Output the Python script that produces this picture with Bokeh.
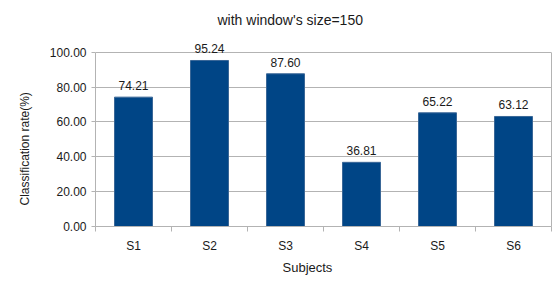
import numpy as np
from bokeh.plotting import figure
from bokeh.models import (ColumnDataSource, Range1d, FixedTicker, LabelSet, Title,
                          NumeralTickFormatter, LinearAxis)
from bokeh.core.properties import value
from bokeh.embed import file_html
from bokeh.resources import INLINE

subjects = ["S1", "S2", "S3", "S4", "S5", "S6"]
rates = [74.21, 95.24, 87.60, 36.81, 65.22, 63.12]
y_ticks = [0, 20, 40, 60, 80, 100]
title_text = "with window's size=150"
x_title = "Subjects"
y_title = "Classification rate(%)"

FONT = "Liberation Sans"
GRID = "#b3b3b3"
TXT = "#1a1a1a"

n = len(subjects)
centers = (np.arange(n) + 0.5).tolist()
bounds = list(range(n + 1))
y_max = y_ticks[-1]

src = ColumnDataSource(dict(x=centers, top=rates,
                            lab=["%.2f" % v for v in rates]))

p = figure(width=552, height=277, output_backend="svg", toolbar_location=None,
           x_range=Range1d(0, n), y_range=Range1d(0, y_max * 1.09),
           min_border_left=90, min_border_right=1, min_border_top=36,
           min_border_bottom=46)
p.background_fill_color = "white"
p.border_fill_color = "white"
p.outline_line_color = None

p.vbar(x="x", top="top", width=0.5, source=src, fill_color="#004586",
       line_color="#3a6797", line_width=1)

labels = LabelSet(x="x", y="top", text="lab", source=src, text_align="center",
                  text_baseline="bottom", y_offset=7, text_font=value(FONT),
                  text_font_size=value("12px"), text_color=TXT)
p.add_layout(labels)

# y axis
p.yaxis.ticker = FixedTicker(ticks=y_ticks)
p.yaxis.bounds = (0, y_max)
p.yaxis.formatter = NumeralTickFormatter(format="0.00")
p.yaxis.major_tick_in = 0
p.yaxis.major_tick_out = 4
p.yaxis.minor_tick_line_color = None
p.yaxis.axis_line_color = GRID
p.yaxis.major_tick_line_color = GRID
p.yaxis.major_label_text_font = FONT
p.yaxis.major_label_text_font_size = "12px"
p.yaxis.major_label_text_color = TXT
p.yaxis.major_label_standoff = 5

# right border line of the plot area
r_axis = LinearAxis(ticker=FixedTicker(ticks=[]), bounds=(0, y_max),
                    axis_line_color=GRID, major_tick_line_color=None,
                    minor_tick_line_color=None, major_label_text_font_size="0px",
                    major_tick_out=0, major_tick_in=0, minor_tick_out=0,
                    minor_tick_in=0, major_label_standoff=0)
p.add_layout(r_axis, "right")

# x axis: labels at centres, ticks at category boundaries
p.xaxis.ticker = FixedTicker(ticks=centers, minor_ticks=bounds)
p.xaxis.major_label_overrides = {c: s for c, s in zip(centers, subjects)}
p.xaxis.major_tick_in = 0
p.xaxis.major_tick_out = 0
p.xaxis.major_tick_line_color = None
p.xaxis.minor_tick_in = 0
p.xaxis.minor_tick_out = 5
p.xaxis.minor_tick_line_color = GRID
p.xaxis.axis_line_color = GRID
p.xaxis.major_label_text_font = FONT
p.xaxis.major_label_text_font_size = "12px"
p.xaxis.major_label_text_color = TXT
p.xaxis.major_label_standoff = 7

p.xgrid.grid_line_color = None
p.ygrid.grid_line_color = GRID
p.ygrid.grid_line_width = 1

p.title = Title(text=title_text, align="left", offset=122, standoff=17,
                text_font=FONT, text_font_size="14px", text_font_style="normal",
                text_color=TXT)
p.add_layout(Title(text=x_title, align="left", offset=187, standoff=5,
                   text_font=FONT, text_font_size="13px",
                   text_font_style="normal", text_color=TXT), "below")
p.add_layout(Title(text=y_title, align="left", offset=21, standoff=30,
                   text_font=FONT, text_font_size="12px",
                   text_font_style="normal", text_color=TXT), "left")

open("out.html", "w").write(file_html(p, INLINE))
